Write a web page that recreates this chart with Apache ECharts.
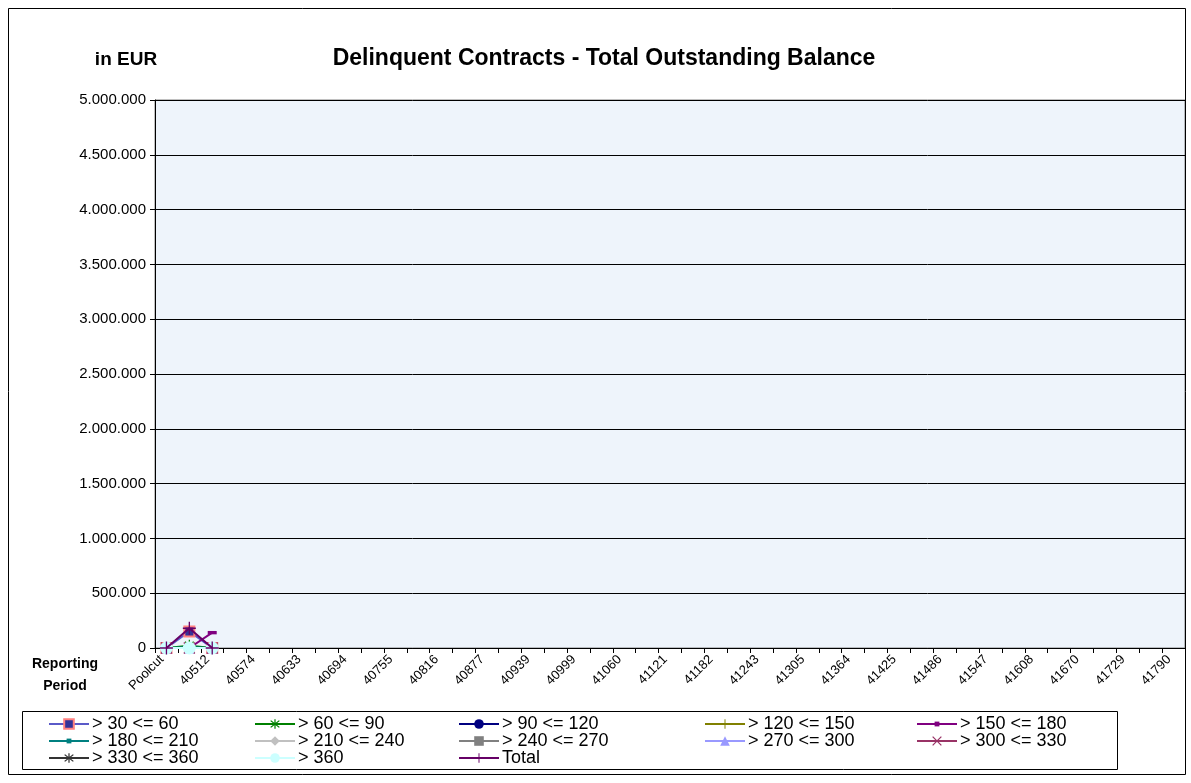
<!DOCTYPE html>
<html>
<head>
<meta charset="utf-8">
<script src="https://cdn.jsdelivr.net/npm/echarts@6/dist/echarts.min.js"></script>
<style>
html,body{margin:0;padding:0;background:#fff;}
#c{width:1191px;height:783px;}
</style>
</head>
<body>
<div id="c"></div>
<script>
// ---- data ----
const categories = ['Poolcut','40482','40512','40543','40574','40602','40633','40663','40694','40724','40755','40786','40816','40847','40877','40908','40939','40968','40999','41029','41060','41090','41121','41152','41182','41213','41243','41274','41305','41333','41364','41394','41425','41455','41486','41517','41547','41578','41608','41639','41670','41698','41729','41759','41790'];
const seriesNames = ['> 30 <= 60','> 60 <= 90','> 90 <= 120','> 120 <= 150','> 150 <= 180','> 180 <= 210','> 210 <= 240','> 240 <= 270','> 270 <= 300','> 300 <= 330','> 330 <= 360','> 360','Total'];
const d30_60   = [0, 150000, 0];
const d60_90   = [0, 20000, 0];
const d90_120  = [0, 0, 0];
const d120_150 = [0, 0, 0];
const d150_180 = [0, 0, 140000];
const d180_210 = [0, 10000, 0];
const d210_240 = [0, 0, 0];
const d240_270 = [0, 0, 0];
const d270_300 = [0, 0, 0];
const d300_330 = [0, 0, 0];
const d330_360 = [0, 0, 0];
const d360     = [0, 0, 0];
const dTotal   = [0, 180000, 0];
const yTicks = {min: 0, max: 5000000, interval: 500000};

// ---- styles ----
const ASTER = 'path://M-1,-10 L1,-10 L1,10 L-1,10 Z M6.36,7.78 L-7.78,-6.36 L-6.36,-7.78 L7.78,6.36 Z M7.78,-6.36 L-6.36,7.78 L-7.78,6.36 L6.36,-7.78 Z';
const XMARK = 'path://M6.36,7.78 L-7.78,-6.36 L-6.36,-7.78 L7.78,6.36 Z M7.78,-6.36 L-6.36,7.78 L-7.78,6.36 L6.36,-7.78 Z';
const PLUS = 'path://M-1,-10 L1,-10 L1,-1 L10,-1 L10,1 L1,1 L1,10 L-1,10 L-1,1 L-10,1 L-10,-1 L-1,-1 Z';
const DASH = 'path://M-4,-1.5 L4,-1.5 L4,1.5 L-4,1.5 Z';
const styles = [
  {line:'#5a5ac8', sym:'rect', size:10, fill:'#333399', border:'#ff8080', bw:2},
  {line:'#008000', sym:ASTER, size:12, fill:'#008000'},
  {line:'#000080', sym:'circle', size:10, fill:'#000080'},
  {line:'#808000', sym:PLUS, size:12, fill:'#808000'},
  {line:'#800080', sym:DASH, size:9, fill:'#800080'},
  {line:'#008080', sym:DASH, size:9, fill:'#008080'},
  {line:'#c0c0c0', sym:'diamond', size:11, fill:'#c0c0c0'},
  {line:'#808080', sym:'rect', size:10, fill:'#808080'},
  {line:'#9999ff', sym:'triangle', size:11, fill:'#9999ff'},
  {line:'#993366', sym:XMARK, size:12, fill:'#993366'},
  {line:'#333333', sym:ASTER, size:12, fill:'#333333'},
  {line:'#ccffff', sym:'circle', size:13, fill:'#ccffff'},
  {line:'#660066', sym:PLUS, size:13, fill:'#660066'}
];
const dataArr = [d30_60,d60_90,d90_120,d120_150,d150_180,d180_210,d210_240,d240_270,d270_300,d300_330,d330_360,d360,dTotal];

const series = seriesNames.map((n,i)=>({
  name:n, type:'line', data:dataArr[i],
  symbol: styles[i].sym, symbolSize: styles[i].size, symbolKeepAspect:true, showAllSymbol:true,
  lineStyle:{color:styles[i].line, width:2},
  itemStyle:{color:styles[i].fill, borderColor:styles[i].border||styles[i].fill, borderWidth:styles[i].bw||0},
  emphasis:{disabled:true}, animation:false, z: 2+i
}));

const colX = [48, 254, 458, 704, 916];
const rowY = [715, 732, 749];
const legends = seriesNames.map((n,i)=>({
  data:[n], left: colX[i%5], top: rowY[Math.floor(i/5)],
  itemWidth:40, itemHeight:(styles[i].sym===DASH ? 6 : 12), itemGap:4, padding:0, symbolKeepAspect:true,
  textStyle:{fontFamily:'Liberation Sans, Arial', fontSize:18, color:'#000', padding:[0,0,0,-2]},
  selectedMode:false
}));

const fmt = v => String(v).replace(/\B(?=(\d{3})+(?!\d))/g,'.');

const chart = echarts.init(document.getElementById('c'), null, {renderer:'canvas'});
chart.setOption({
  backgroundColor:'#fff',
  animation:false,
  title:[
    {text:'Delinquent Contracts - Total Outstanding Balance', left:599, top:42, textAlign:'center',
     textStyle:{fontFamily:'Liberation Sans, Arial', fontWeight:'bold', fontSize:23, color:'#000'}},
    {text:'in EUR', left:121, top:45, textAlign:'center',
     textStyle:{fontFamily:'Liberation Sans, Arial', fontWeight:'bold', fontSize:19, color:'#000'}},
    {text:'Reporting\nPeriod', left:60, top:648, textAlign:'center',
     textStyle:{fontFamily:'Liberation Sans, Arial', fontWeight:'bold', fontSize:14, color:'#000', lineHeight:22}}
  ],
  legend: legends,
  grid:{left:155, top:100, right:6, bottom:135, show:true, backgroundColor:'#eef4fb', borderColor:'#808080', borderWidth:1},
  xAxis:{type:'category', data:categories, boundaryGap:true,
    axisLine:{lineStyle:{color:'#000', width:1}},
    axisTick:{show:true, interval:0, length:5, lineStyle:{color:'#000'}},
    axisLabel:{interval:1, rotate:45, fontFamily:'Liberation Sans, Arial', fontSize:13, color:'#000', margin:14, verticalAlign:'bottom'},
    splitLine:{show:false}},
  yAxis:{type:'value', min:yTicks.min, max:yTicks.max, interval:yTicks.interval,
    axisLine:{show:true, lineStyle:{color:'#000'}},
    axisTick:{show:true, length:5, lineStyle:{color:'#000'}},
    axisLabel:{formatter:fmt, fontFamily:'Liberation Sans, Arial', fontSize:15, color:'#000', margin:9},
    splitLine:{show:true, lineStyle:{color:'#000', width:1}}},
  series: series,
  graphic:[
    {type:'rect', shape:{x:8.5, y:8.5, width:1177, height:766}, style:{fill:'none', stroke:'#000', lineWidth:1}, silent:true},
    {type:'rect', shape:{x:22.5, y:711.5, width:1095, height:58}, style:{fill:'none', stroke:'#000', lineWidth:1}, silent:true}
  ]
});
</script>
</body>
</html>
